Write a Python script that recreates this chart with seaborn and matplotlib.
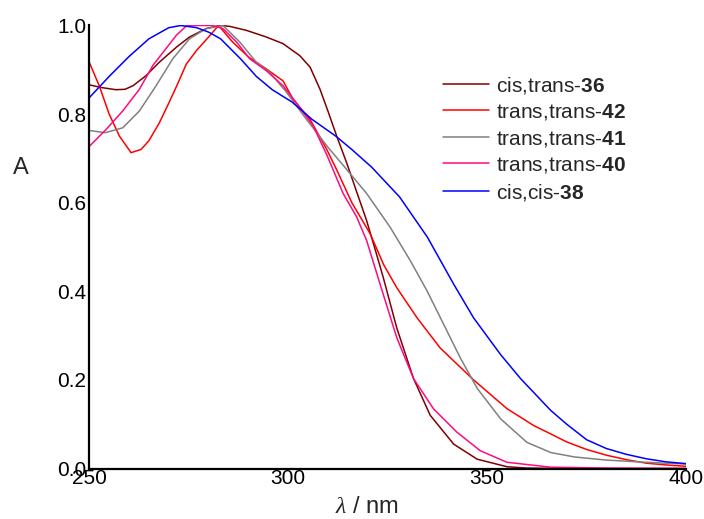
import matplotlib
matplotlib.use("Agg")
import matplotlib.pyplot as plt
import seaborn as sns
import pandas as pd

# ---- data ----
labels = ["cis,trans-$\\mathbf{36}$", "trans,trans-$\\mathbf{42}$",
          "trans,trans-$\\mathbf{41}$", "trans,trans-$\\mathbf{40}$",
          "cis,cis-$\\mathbf{38}$"]
colors = ["#800000", "#ff0000", "#808080", "#ff0a80", "#0000ff"]

wl_36 = [250, 253, 256.7, 259, 261, 264.3, 267.6, 271.9, 275.2, 279.4, 282.8, 285.3,
         289.5, 294.5, 298.7, 302.9, 305.5, 308, 310.1, 312.2, 314.7, 317, 319.7, 322,
         323.9, 327.3, 331.5, 335.7, 341.6, 347.5, 355, 360, 370, 385, 400]
a_36 = [0.866, 0.86, 0.855, 0.856, 0.864, 0.887, 0.917, 0.951, 0.974, 0.993, 1.0, 0.998,
        0.989, 0.974, 0.959, 0.932, 0.906, 0.856, 0.804, 0.75, 0.69, 0.63, 0.56, 0.49,
        0.431, 0.317, 0.203, 0.12, 0.055, 0.021, 0.004, 0.001, 0.0, 0.0, 0.0]

wl_42 = [250, 252.5, 255, 257.6, 260.5, 263, 265, 267.6, 270, 272, 274.4, 277, 280,
         282.5, 286, 290, 294.5, 298.7, 301.2, 305.5, 309.7, 312.2, 316, 320.6, 324,
         327.3, 332.4, 338.2, 346.6, 355, 361.7, 366, 370, 375, 380, 385, 390, 395, 400]
a_42 = [0.917, 0.864, 0.80, 0.75, 0.713, 0.72, 0.74, 0.78, 0.825, 0.864, 0.913, 0.944,
        0.974, 1.0, 0.963, 0.929, 0.902, 0.875, 0.834, 0.788, 0.72, 0.674, 0.60, 0.53,
        0.46, 0.408, 0.34, 0.272, 0.20, 0.135, 0.097, 0.078, 0.06, 0.043, 0.03, 0.02,
        0.012, 0.008, 0.005]

wl_41 = [250, 254, 258.4, 262.6, 266.8, 271, 275.2, 279.4, 283.6, 287.8, 292, 295.4,
         299.6, 304.6, 310, 314.7, 319.7, 325.6, 330.7, 334.9, 339.1, 343.3, 347.5,
         353.4, 360, 366, 372, 380, 390, 400]
a_41 = [0.763, 0.758, 0.769, 0.807, 0.864, 0.925, 0.970, 0.993, 1.0, 0.963, 0.917, 0.894,
        0.849, 0.788, 0.725, 0.675, 0.621, 0.545, 0.469, 0.401, 0.325, 0.249, 0.181,
        0.112, 0.059, 0.036, 0.026, 0.019, 0.014, 0.01]

wl_40 = [250, 254.2, 258.4, 262.6, 266, 269.3, 271.9, 274.4, 277, 281, 283.6, 287, 290.3,
         294.5, 298.7, 302, 306.3, 309.7, 311.3, 313.8, 317.2, 319.7, 323.1, 327.3,
         331.5, 336.5, 342.4, 348.3, 355, 366, 380, 400]
a_40 = [0.727, 0.765, 0.807, 0.856, 0.91, 0.948, 0.978, 0.999, 1.0, 1.0, 0.993, 0.963,
        0.925, 0.898, 0.864, 0.826, 0.773, 0.708, 0.674, 0.621, 0.568, 0.515, 0.416,
        0.295, 0.203, 0.135, 0.082, 0.04, 0.014, 0.003, 0.001, 0.0]

wl_38 = [250, 255, 260, 265, 270, 273, 277, 280, 283, 288, 292, 296, 301, 306, 312, 316,
         321, 328, 335, 341.6, 346.6, 353.4, 358.4, 366, 370, 375, 380, 385, 390, 395, 400]
a_38 = [0.837, 0.885, 0.93, 0.97, 0.995, 1.0, 0.995, 0.985, 0.97, 0.925, 0.885, 0.855,
        0.827, 0.788, 0.75, 0.72, 0.68, 0.613, 0.522, 0.416, 0.34, 0.257, 0.203, 0.131,
        0.10, 0.065, 0.045, 0.032, 0.022, 0.015, 0.011]

x_ticks = [250, 300, 350, 400]
y_ticks = [0.0, 0.2, 0.4, 0.6, 0.8, 1.0]
y_tick_labels = ["0.0", "0.2", "0.4", "0.6", "0.8", "1.0"]

series = [(wl_36, a_36), (wl_42, a_42), (wl_41, a_41), (wl_40, a_40), (wl_38, a_38)]
frames = []
for lab, (w, a) in zip(labels, series):
    frames.append(pd.DataFrame({"wl": w, "A": a, "series": lab}))
df = pd.concat(frames, ignore_index=True)

# ---- style ----
sns.set_style("white")
plt.rcParams["font.family"] = ["Liberation Sans", "DejaVu Sans"]
plt.rcParams["mathtext.fontset"] = "custom"
plt.rcParams["mathtext.rm"] = "Liberation Sans"
plt.rcParams["mathtext.it"] = "Liberation Serif:italic"
plt.rcParams["mathtext.bf"] = "Liberation Sans:bold"

fig = plt.figure(figsize=(7.04, 5.19), dpi=100)
ax = fig.add_axes([0.1268, 0.0973, 0.8477, 0.8536])

sns.lineplot(data=df, x="wl", y="A", hue="series", hue_order=labels,
             palette=dict(zip(labels, colors)), sort=False, estimator=None,
             linewidth=1.1, ax=ax, legend=True)

ax.set_xlim(250, 400)
ax.set_ylim(0, 1.0)
ax.set_xticks(x_ticks)
ax.set_xticklabels([str(t) for t in x_ticks])
ax.set_yticks(y_ticks)
ax.set_yticklabels(y_tick_labels)
ax.tick_params(axis="both", length=0, labelsize=15, colors="black")
ax.tick_params(axis="x", pad=0)
ax.tick_params(axis="y", pad=2)

for s in ["top", "right"]:
    ax.spines[s].set_visible(False)
for s in ["left", "bottom"]:
    ax.spines[s].set_color("black")
    ax.spines[s].set_linewidth(1.6)

ax.set_xlabel("$\\lambda$ / nm", fontsize=17)
ax.xaxis.set_label_coords(0.466, -0.087)
ax.xaxis.label.set_va("center")
ax.set_ylabel("A", fontsize=17, rotation=0, va="center", ha="center")
ax.yaxis.set_label_coords(-0.115, 0.679)

sns.move_legend(ax, loc="upper left", bbox_to_anchor=(0.6296, 0.856),
                bbox_transform=fig.transFigure, frameon=False, title=None,
                fontsize=15, handlelength=2.2, handletextpad=0.35,
                labelspacing=0.31, borderpad=0, borderaxespad=0)

fig.savefig("out.png", dpi=100)
